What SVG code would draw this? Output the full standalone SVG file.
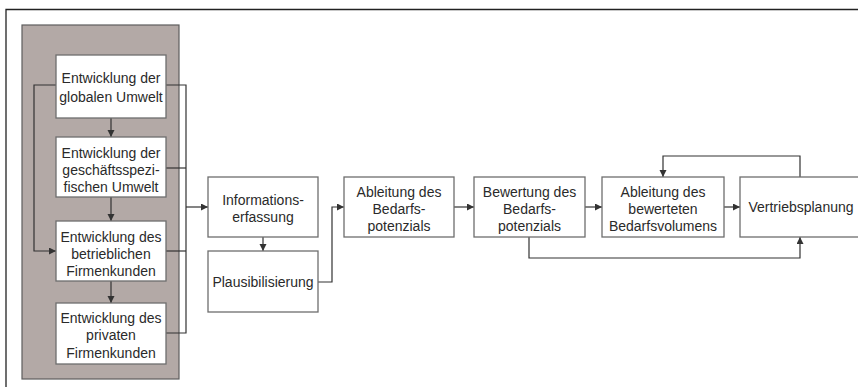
<svg xmlns="http://www.w3.org/2000/svg" width="858" height="387" viewBox="0 0 858 387">
<style>
.box{fill:#fff;stroke:#6e6e6e;stroke-width:1.3}
.t{font-family:"Liberation Sans",Arial,sans-serif;font-size:14px;fill:#2a2a2a;text-anchor:middle}
.c{fill:none;stroke:#333;stroke-width:1.2}
</style>
<defs>
<marker id="ar" markerUnits="userSpaceOnUse" markerWidth="8" markerHeight="8" refX="7" refY="3.5" orient="auto">
<path d="M0,0 L7,3.5 L0,7 z" fill="#333"/>
</marker>
</defs>
<rect width="858" height="387" fill="#fff"/>
<g id="frame">
<path d="M6,387 V9.5 H858" fill="none" stroke="#222" stroke-width="1.3"/>
</g>
<g id="panel">
<rect x="22" y="25" width="157" height="354" fill="#b3a9a6" stroke="#5e5e5e" stroke-width="1.2"/>
</g>
<g id="connectors">
<path class="c" d="M111,118 V137" marker-end="url(#ar)"/>
<path class="c" d="M111,197 V221" marker-end="url(#ar)"/>
<path class="c" d="M111,281 V303" marker-end="url(#ar)"/>
<path class="c" d="M56,85 H34 V251 H56" marker-end="url(#ar)"/>
<path class="c" d="M166,85 H186 V333 H166"/>
<path class="c" d="M166,168 H186"/>
<path class="c" d="M166,251 H186"/>
<path class="c" d="M186,207 H208" marker-end="url(#ar)"/>
<path class="c" d="M263,237 V251" marker-end="url(#ar)"/>
<path class="c" d="M318,282 H332 V207 H344" marker-end="url(#ar)"/>
<path class="c" d="M454,207 H474" marker-end="url(#ar)"/>
<path class="c" d="M585,207 H602" marker-end="url(#ar)"/>
<path class="c" d="M724,207 H740" marker-end="url(#ar)"/>
<path class="c" d="M800,177 V156 H663 V177" marker-end="url(#ar)"/>
<path class="c" d="M529,237 V258 H800 V237" marker-end="url(#ar)"/>
</g>
<g id="n1">
<rect class="box" x="56" y="55" width="110" height="63"/>
<text class="t" x="111" y="83">Entwicklung der</text>
<text class="t" x="111" y="102">globalen Umwelt</text>
</g>
<g id="n2">
<rect class="box" x="56" y="137" width="110" height="60"/>
<text class="t" x="111" y="158">Entwicklung der</text>
<text class="t" x="111" y="175">geschäftsspezi-</text>
<text class="t" x="111" y="192">fischen Umwelt</text>
</g>
<g id="n3">
<rect class="box" x="56" y="221" width="110" height="60"/>
<text class="t" x="111" y="242">Entwicklung des</text>
<text class="t" x="111" y="259">betrieblichen</text>
<text class="t" x="111" y="276">Firmenkunden</text>
</g>
<g id="n4">
<rect class="box" x="56" y="303" width="110" height="61"/>
<text class="t" x="111" y="323">Entwicklung des</text>
<text class="t" x="111" y="340">privaten</text>
<text class="t" x="111" y="358">Firmenkunden</text>
</g>
<g id="n5">
<rect class="box" x="208" y="177" width="110" height="60"/>
<text class="t" x="263" y="205">Informations-</text>
<text class="t" x="263" y="222">erfassung</text>
</g>
<g id="n6">
<rect class="box" x="208" y="251" width="110" height="61"/>
<text class="t" x="263" y="287">Plausibilisierung</text>
</g>
<g id="n7">
<rect class="box" x="344" y="177" width="110" height="60"/>
<text class="t" x="399" y="197">Ableitung des</text>
<text class="t" x="399" y="214">Bedarfs-</text>
<text class="t" x="399" y="231">potenzials</text>
</g>
<g id="n8">
<rect class="box" x="474" y="177" width="111" height="60"/>
<text class="t" x="529.5" y="197">Bewertung des</text>
<text class="t" x="529.5" y="214">Bedarfs-</text>
<text class="t" x="529.5" y="231">potenzials</text>
</g>
<g id="n9">
<rect class="box" x="602" y="177" width="122" height="60"/>
<text class="t" x="663" y="197">Ableitung des</text>
<text class="t" x="663" y="214">bewerteten</text>
<text class="t" x="663" y="231">Bedarfsvolumens</text>
</g>
<g id="n10">
<rect class="box" x="740" y="177" width="122" height="60"/>
<text class="t" x="801" y="212">Vertriebsplanung</text>
</g>
</svg>
